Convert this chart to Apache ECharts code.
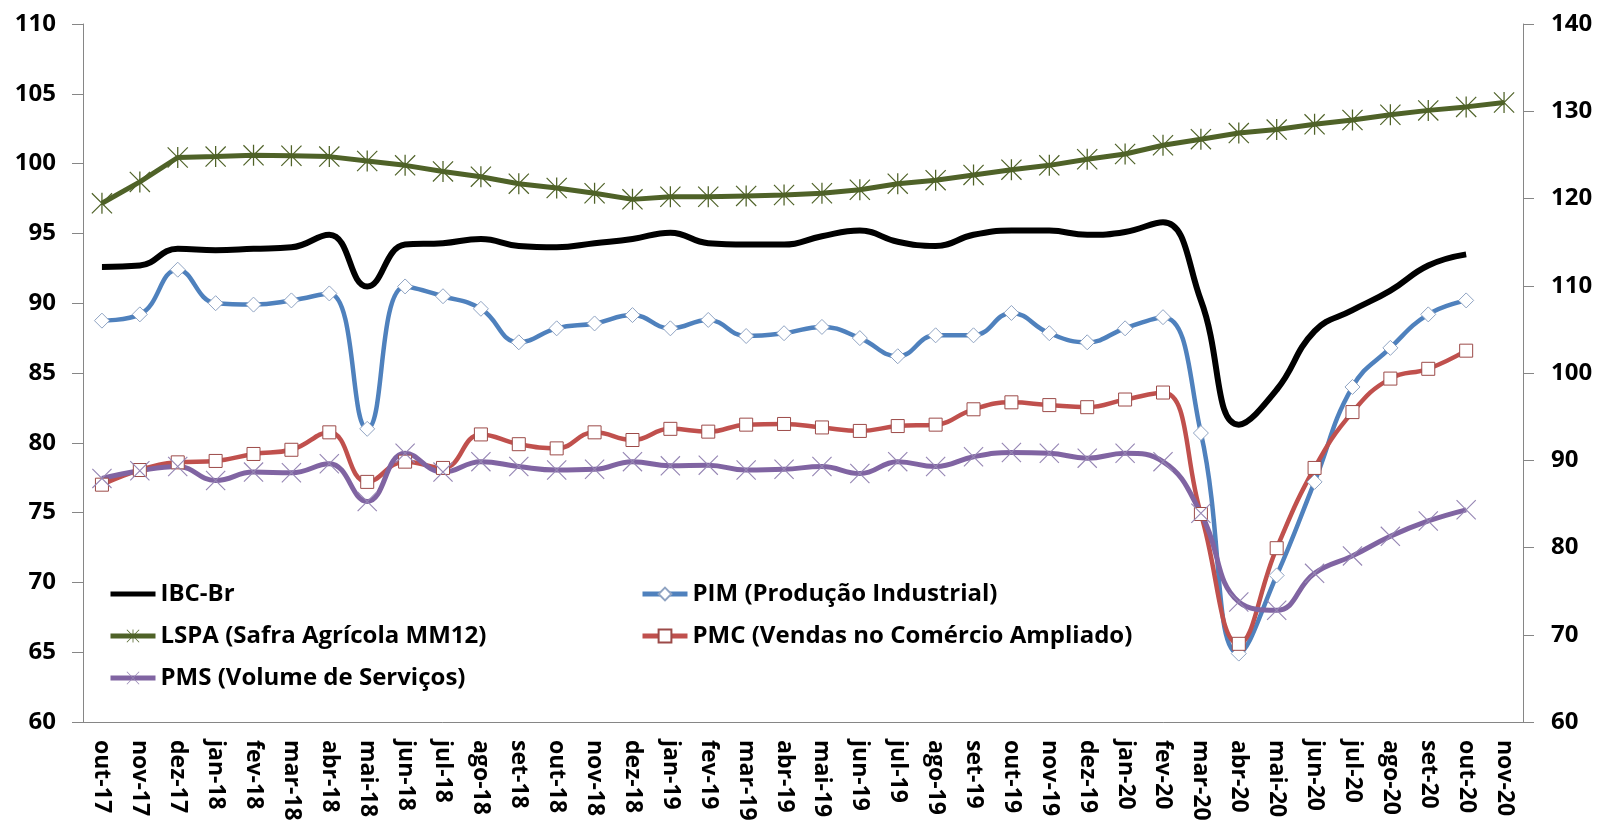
<!DOCTYPE html>
<html>
<head>
<meta charset="utf-8">
<script src="https://cdn.jsdelivr.net/npm/echarts@6/dist/echarts.min.js"></script>
<style>
  html, body { margin: 0; padding: 0; background: #fff; }
  #chart { width: 1600px; height: 826px; }
</style>
</head>
<body>
<div id="chart"></div>
<script>
const months = [
  'out-17', 'nov-17', 'dez-17',
  'jan-18', 'fev-18', 'mar-18', 'abr-18', 'mai-18', 'jun-18', 'jul-18', 'ago-18', 'set-18', 'out-18', 'nov-18', 'dez-18',
  'jan-19', 'fev-19', 'mar-19', 'abr-19', 'mai-19', 'jun-19', 'jul-19', 'ago-19', 'set-19', 'out-19', 'nov-19', 'dez-19',
  'jan-20', 'fev-20', 'mar-20', 'abr-20', 'mai-20', 'jun-20', 'jul-20', 'ago-20', 'set-20', 'out-20', 'nov-20'
]

// left axis
const ibcBr = [92.6, 92.7, 93.9, 93.8, 93.9, 94.0, 94.9, 91.2, 94.2, 94.3, 94.6, 94.1, 94.0, 94.3, 94.6,
  95.05, 94.3, 94.2, 94.2, 94.8, 95.2, 94.4, 94.1, 94.9, 95.2, 95.2, 94.9,
  95.1, 95.8, 90.2, 81.3, 83.8, 88.0, 89.5, 90.9, 92.7, 93.5, null]
const pim = [88.75, 89.2, 92.4, 90.0, 89.9, 90.2, 90.7, 81.0, 91.2, 90.5, 89.6, 87.2, 88.2, 88.55, 89.15,
  88.2, 88.8, 87.65, 87.85, 88.3, 87.5, 86.2, 87.7, 87.7, 89.3, 87.85, 87.2,
  88.2, 89.0, 80.7, 64.9, 70.5, 77.2, 84.0, 86.8, 89.2, 90.2, null]
const pmc = [77.0, 78.05, 78.6, 78.7, 79.2, 79.5, 80.75, 77.2, 78.65, 78.2, 80.6, 79.9, 79.6, 80.75, 80.2,
  81.0, 80.8, 81.3, 81.35, 81.1, 80.85, 81.2, 81.3, 82.4, 82.9, 82.7, 82.55,
  83.1, 83.6, 74.9, 65.6, 72.45, 78.2, 82.2, 84.6, 85.3, 86.6, null]
const pms = [77.45, 78.0, 78.3, 77.3, 77.9, 77.85, 78.5, 75.8, 79.25, 77.9, 78.65, 78.3, 78.05, 78.1, 78.65,
  78.35, 78.4, 78.05, 78.1, 78.3, 77.8, 78.65, 78.3, 79.0, 79.3, 79.25, 78.9,
  79.25, 78.65, 74.95, 68.6, 68.0, 70.65, 71.9, 73.3, 74.4, 75.2, null]
// right axis
const lspa = [119.45, 121.9, 124.7, 124.8, 124.95, 124.9, 124.8, 124.3, 123.8, 123.1, 122.5, 121.7, 121.2, 120.6, 119.9,
  120.2, 120.2, 120.3, 120.4, 120.6, 121.0, 121.7, 122.1, 122.7, 123.3, 123.8, 124.5,
  125.1, 126.1, 126.8, 127.5, 127.9, 128.5, 129.0, 129.6, 130.1, 130.5, 131.0]

const font = 'Open Sans'
const axisGray = '#868686'
// excel-like markers drawn as thin filled bars
const starPath = 'path://M9.4 0h1.2v20h-1.2z M0 0.8L0.8 0L20 19.2L19.2 20z M19.2 0L20 0.8L0.8 20L0 19.2z'
const crossPath = 'path://M0 0.8L0.8 0L20 19.2L19.2 20z M19.2 0L20 0.8L0.8 20L0 19.2z'
// plain thick line for the IBC-Br legend entry (corner dots keep the box 45x16)
const barIcon = 'path://M0 0h0.01v0.01h-0.01z M0 5.5h45v5h-45z M44.99 15.99h0.01v0.01h-0.01z'

const chart = echarts.init(document.getElementById('chart'))

const legendText = {
  fontFamily: font,
  fontWeight: 'bold',
  fontSize: 24,
  color: '#000',
  lineHeight: 28
}

chart.setOption({
  animation: false,
  textStyle: { fontFamily: font },
  grid: { left: 83, right: 77, top: 24, bottom: 104, containLabel: false },
  legend: [
    {
      data: [
        { name: 'IBC-Br', icon: barIcon },
        'LSPA (Safra Agrícola MM12)',
        'PMS (Volume de Serviços)'
      ],
      orient: 'vertical',
      left: 103,
      top: 575,
      itemWidth: 45,
      itemHeight: 16,
      itemGap: 14,
      lineStyle: { width: 5 },
      textStyle: legendText
    },
    {
      data: ['PIM (Produção Industrial)', 'PMC (Vendas no Comércio Ampliado)'],
      orient: 'vertical',
      left: 635,
      top: 575,
      itemWidth: 45,
      itemHeight: 16,
      itemGap: 14,
      lineStyle: { width: 5 },
      textStyle: legendText
    }
  ],
  xAxis: {
    type: 'category',
    data: months,
    boundaryGap: true,
    axisLine: { lineStyle: { color: axisGray, width: 1 } },
    axisTick: { length: 11, lineStyle: { color: axisGray } },
    axisLabel: {
      rotate: -90,
      interval: 0,
      margin: 18,
      fontFamily: font,
      fontWeight: 'bold',
      fontSize: 23,
      color: '#000'
    }
  },
  yAxis: [
    {
      type: 'value',
      min: 60,
      max: 110,
      interval: 5,
      splitLine: { show: false },
      axisLine: { show: true, lineStyle: { color: axisGray } },
      axisTick: { show: true, length: 11, lineStyle: { color: axisGray } },
      axisLabel: { margin: 27, fontFamily: font, fontWeight: 'bold', fontSize: 24, color: '#000' }
    },
    {
      type: 'value',
      position: 'right',
      min: 60,
      max: 140,
      interval: 10,
      splitLine: { show: false },
      axisLine: { show: true, lineStyle: { color: axisGray } },
      axisTick: { show: true, length: 11, lineStyle: { color: axisGray } },
      axisLabel: { margin: 28, fontFamily: font, fontWeight: 'bold', fontSize: 24, color: '#000' }
    }
  ],
  series: [
    {
      name: 'IBC-Br',
      type: 'line',
      yAxisIndex: 0,
      data: ibcBr,
      smooth: 0.45,
      symbol: 'none',
      lineStyle: { color: '#000', width: 6 },
      itemStyle: { color: '#000' }
    },
    {
      name: 'PIM (Produção Industrial)',
      type: 'line',
      yAxisIndex: 0,
      data: pim,
      smooth: 0.45,
      symbol: 'diamond',
      symbolSize: 15,
      showAllSymbol: true,
      lineStyle: { color: '#4f81bd', width: 4.5 },
      itemStyle: { color: '#fff', borderColor: '#8fa3c2', borderWidth: 1 }
    },
    {
      name: 'LSPA (Safra Agrícola MM12)',
      type: 'line',
      yAxisIndex: 1,
      data: lspa,
      smooth: false,
      symbol: starPath,
      symbolSize: 21,
      showAllSymbol: true,
      lineStyle: { color: '#4f6228', width: 5 },
      itemStyle: { color: '#4f6228' }
    },
    {
      name: 'PMC (Vendas no Comércio Ampliado)',
      type: 'line',
      yAxisIndex: 0,
      data: pmc,
      smooth: 0.45,
      symbol: 'rect',
      symbolSize: 13,
      showAllSymbol: true,
      lineStyle: { color: '#c0504d', width: 4.5 },
      itemStyle: { color: '#fff', borderColor: '#9c4a48', borderWidth: 1 }
    },
    {
      name: 'PMS (Volume de Serviços)',
      type: 'line',
      yAxisIndex: 0,
      data: pms,
      smooth: 0.45,
      symbol: crossPath,
      symbolSize: 20,
      showAllSymbol: true,
      lineStyle: { color: '#8064a2', width: 5 },
      itemStyle: { color: '#9686b4' }
    }
  ]
})
</script>
</body>
</html>
